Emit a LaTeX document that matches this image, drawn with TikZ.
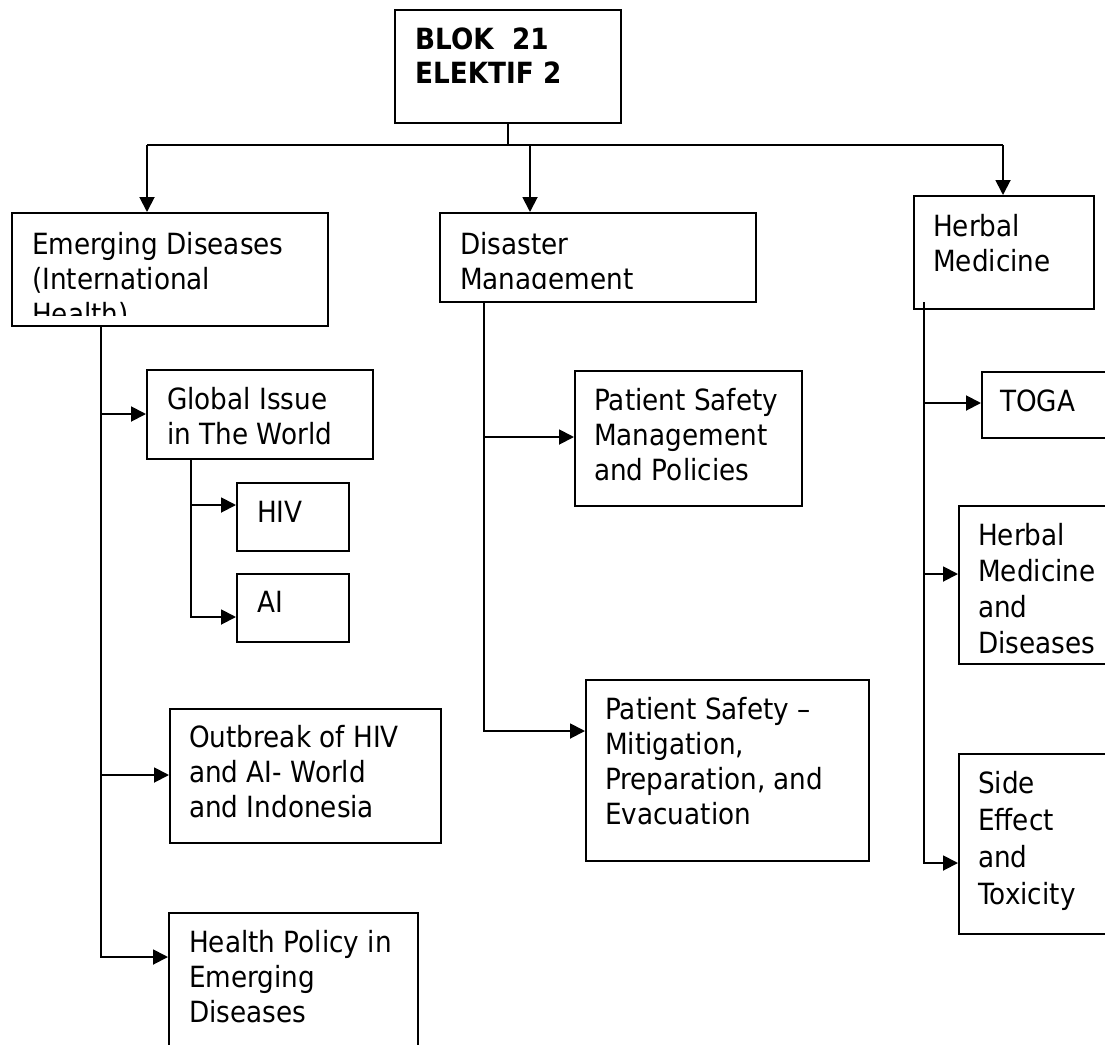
\documentclass[tikz,border=0pt]{standalone}
\usepackage{fontspec}
\setmainfont{DejaVu Sans}[FakeStretch=0.9]
\usetikzlibrary{arrows.meta}
\begin{document}
\begin{tikzpicture}[x=1pt,y=-1pt,
  box/.style={draw, line width=1.9pt, inner sep=0pt, anchor=north west},
  txt/.style={anchor=base west, inner sep=0pt, align=left, font=\fontsize{29.2}{35}\selectfont},
  conn/.style={line width=1.9pt},
  arr/.style={line width=1.9pt, -{Triangle[length=15pt,width=15pt]}}]
\clip (0,0) rectangle (1105,1044);
\fill[white] (0,0) rectangle (1105,1044);

% boxes
\node[box, minimum width=226, minimum height=113] (blok) at (394,9) {};
\node[box, minimum width=316, minimum height=113] (emerg) at (11,212) {};
\node[box, minimum width=316, minimum height=89] (disas) at (439,212) {};
\node[box, minimum width=180, minimum height=113] (herb) at (913,195) {};
\node[box, minimum width=226, minimum height=89] (global) at (146,369) {};
\node[box, minimum width=112, minimum height=68] (hiv) at (236,482) {};
\node[box, minimum width=112, minimum height=68] (ai) at (236,573) {};
\node[box, minimum width=271, minimum height=134] (outb) at (169,708) {};
\node[box, minimum width=249, minimum height=160] (hpol) at (168,912) {};
\node[box, minimum width=227, minimum height=135] (psm) at (574,370) {};
\node[box, minimum width=283, minimum height=181] (mitig) at (585,679) {};
\node[box, minimum width=170, minimum height=66] (toga) at (981,371) {};
\node[box, minimum width=190, minimum height=158] (hmd) at (958,505) {};
\node[box, minimum width=190, minimum height=180] (side) at (958,753) {};

% texts (anchored at the baseline of the last line)
\node[txt, font=\fontsize{29.2}{34}\selectfont\bfseries] (blokt) at (415,83) {BLOK~~21\\ELEKTIF 2};
\begin{scope}
  \clip (11,212) rectangle (327,315);
  \node[txt] (emergt) at (32,324) {Emerging Diseases\\(International\\Health)};
\end{scope}
\begin{scope}
  \clip (439,212) rectangle (755,288);
  \node[txt] (disast) at (460,289) {Disaster\\Management};
\end{scope}
\node[txt] (herbt) at (933,271) {Herbal\\Medicine};
\node[txt] (globalt) at (167,444) {Global Issue\\in The World};
\node[txt] (hivt) at (257,522) {HIV};
\node[txt] (ait) at (257,612) {AI};
\node[txt] (outbt) at (189,817) {Outbreak of HIV\\and AI- World\\and Indonesia};
\node[txt] (hpolt) at (189,1022) {Health Policy in\\Emerging\\Diseases};
\node[txt] (psmt) at (594,480) {Patient Safety\\Management\\and Policies};
\node[txt] (mitigt) at (605,824) {Patient Safety --\\Mitigation,\\Preparation, and\\Evacuation};
\node[txt] (togat) at (1000,411) {TOGA};
\node[txt, font=\fontsize{29.2}{36}\selectfont] (hmdt) at (978,653) {Herbal\\Medicine\\and\\Diseases};
\node[txt, font=\fontsize{29.2}{37}\selectfont] (sidet) at (978,904) {Side\\Effect\\and\\Toxicity};

% top connectors
\coordinate (hl) at (147,145);
\coordinate (hm) at (530,145);
\coordinate (hr) at (1003,145);
\draw[conn] (blok.south) -- (blok.south |- hl);
\draw[conn] (hl) -- (hr);
\draw[arr] (hl) -- (emerg.north -| hl);
\draw[arr] (hm) -- (disas.north -| hm);
\draw[arr] (hr) -- (herb.north -| hr);

% emerging branch
\coordinate (e0) at (101,325);
\draw[arr] (e0) |- (hpol.west |- 0,957);
\draw[arr] (101,414) -- (global.west |- 0,414);
\draw[arr] (101,775) -- (outb.west |- 0,775);
\coordinate (g0) at (191,458);
\draw[arr] (g0) |- (ai.west |- 0,617);
\draw[arr] (191,505) -- (hiv.west |- 0,505);

% disaster branch
\coordinate (d0) at (484,301);
\draw[arr] (d0) |- (mitig.west |- 0,731);
\draw[arr] (484,437) -- (psm.west |- 0,437);

% herbal branch
\coordinate (h0) at (924,302);
\draw[arr] (h0) |- (side.west |- 0,863);
\draw[arr] (924,403) -- (toga.west |- 0,403);
\draw[arr] (924,574) -- (hmd.west |- 0,574);
\end{tikzpicture}
\end{document}
